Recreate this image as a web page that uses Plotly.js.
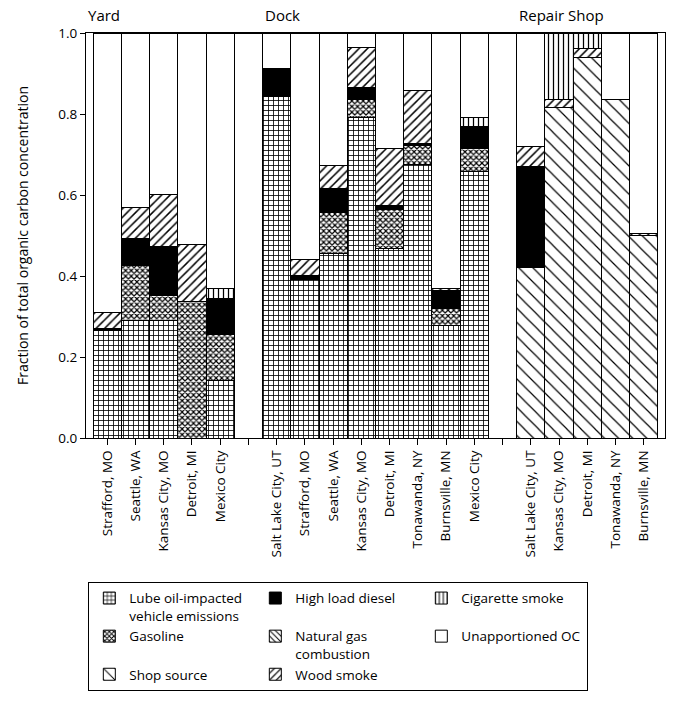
<!DOCTYPE html>
<html>
<head>
<meta charset="utf-8">
<script src="https://cdn.plot.ly/plotly-3.0.1.min.js"></script>
<style>html,body{margin:0;padding:0;background:#fff;}#chart{width:682px;height:703px;}</style>
</head>
<body>
<div id="chart"></div>
<script>
// slot labels (gaps separate Yard / Dock / Repair Shop)
const siteLabels = ["Strafford, MO","Seattle, WA","Kansas City, MO","Detroit, MI","Mexico City","",
  "Salt Lake City, UT","Strafford, MO","Seattle, WA","Kansas City, MO","Detroit, MI","Tonawanda, NY","Burnsville, MN","Mexico City","",
  "Salt Lake City, UT","Kansas City, MO","Detroit, MI","Tonawanda, NY","Burnsville, MN"];
const slots = siteLabels.map((_, i) => i);
const groupNames = ["Yard", "Dock", "Repair Shop"];

const lubeOil    = [0.265,0.290,0.290,0,0.143, 0, 0.843,0.392,0.456,0.791,0.468,0.676,0.277,0.658, 0, 0,0,0,0,0];
const gasoline   = [0,0.137,0.062,0.337,0.113, 0, 0,0,0.101,0.046,0.095,0.046,0.043,0.057, 0, 0,0,0,0,0];
const shopSource = [0,0,0,0,0, 0, 0,0,0,0,0,0,0,0, 0, 0.420,0.816,0.940,0.835,0.499];
const naturalGas = [0,0,0,0,0, 0, 0,0,0,0,0,0,0,0, 0, 0,0,0,0,0];
const highDiesel = [0.005,0.066,0.120,0,0.089, 0, 0.070,0.010,0.058,0.028,0.012,0.006,0.045,0.055, 0, 0.250,0,0,0,0];
const woodSmoke  = [0.040,0.076,0.130,0.140,0, 0, 0,0.038,0.059,0.100,0.139,0.131,0.005,0, 0, 0.049,0.020,0.022,0,0.006];
const cigarette  = [0,0,0,0,0.024, 0, 0,0,0,0,0,0,0,0.022, 0, 0,0.164,0.038,0,0];
const unapportioned = [0.690,0.431,0.398,0.523,0.631, 1.0, 0.087,0.560,0.326,0.035,0.286,0.141,0.630,0.208, 1.0, 0.281,0,0,0.165,0.495];

const FONT = "Open Sans, Noto Sans, sans-serif";
function bar(name, y, rank, color, pattern) {
  const m = {color: color, line: {color: "black", width: 1}};
  if (pattern) m.pattern = Object.assign({fgcolor: "black", bgcolor: "white", fillmode: "replace"}, pattern);
  return {type: "bar", name: name, x: slots, y: y, legendrank: rank, marker: m, hoverinfo: "name+y"};
}

const traces = [
  bar("Lube oil-impacted<br>vehicle emissions", lubeOil, 1, "white", {shape: "+", size: 5, solidity: 0.3}),
  bar("Gasoline", gasoline, 4, "white", {shape: "x", size: 4, solidity: 0.5}),
  bar("Shop source", shopSource, 7, "white", {shape: "\\", size: 10, solidity: 0.12}),
  bar("Natural gas<br>combustion", naturalGas, 5, "white", {shape: "\\", size: 5, solidity: 0.25}),
  bar("High load diesel", highDiesel, 2, "black", null),
  bar("Wood smoke", woodSmoke, 8, "white", {shape: "/", size: 6, solidity: 0.25}),
  bar("Cigarette smoke", cigarette, 3, "white", {shape: "|", size: 5, solidity: 0.25}),
  bar("Unapportioned OC", unapportioned, 6, "white", null)
];

const annotations = [
  {text: groupNames[0], x: -0.75, y: 1.045},
  {text: groupNames[1], x: 5.5, y: 1.045},
  {text: groupNames[2], x: 14.5, y: 1.045}
].map(a => Object.assign({xref: "x", yref: "paper", xanchor: "left", yanchor: "middle", showarrow: false,
  font: {family: FONT, size: 15, color: "black"}}, a));

const layout = {
  width: 682, height: 703,
  margin: {l: 86, r: 17, t: 33, b: 265},
  paper_bgcolor: "white", plot_bgcolor: "white",
  barmode: "stack", bargap: 0,
  font: {family: FONT, size: 13, color: "black"},
  showlegend: true,
  legend: {
    orientation: "h", x: 0.004, xanchor: "left", y: -0.355, yanchor: "top",
    bordercolor: "black", borderwidth: 1, bgcolor: "white",
    entrywidth: 121, entrywidthmode: "pixels", traceorder: "normal",
    font: {family: FONT, size: 13.5, color: "black"}, valign: "top", itemwidth: 30
  },
  xaxis: {
    range: [-0.75, 19.75], tickmode: "array", tickvals: slots, ticktext: siteLabels,
    tickangle: -90, ticks: "outside", ticklen: 6, tickcolor: "black",
    showline: true, linecolor: "black", linewidth: 1, mirror: true, showgrid: false, zeroline: false,
    tickfont: {family: FONT, size: 13.5, color: "black"}
  },
  yaxis: {
    range: [0, 1], tickmode: "array", tickvals: [0, 0.2, 0.4, 0.6, 0.8, 1.0], tickformat: ".1f",
    ticks: "outside", ticklen: 5, tickcolor: "black",
    showline: true, linecolor: "black", linewidth: 1, mirror: true, showgrid: false, zeroline: false,
    tickfont: {family: FONT, size: 13.5, color: "black"},
    title: {text: "Fraction of total organic carbon concentration", font: {family: FONT, size: 14, color: "black"}, standoff: 26}
  },
  annotations: annotations
};

Plotly.newPlot("chart", traces, layout, {displayModeBar: false, staticPlot: true});
</script>
</body>
</html>
